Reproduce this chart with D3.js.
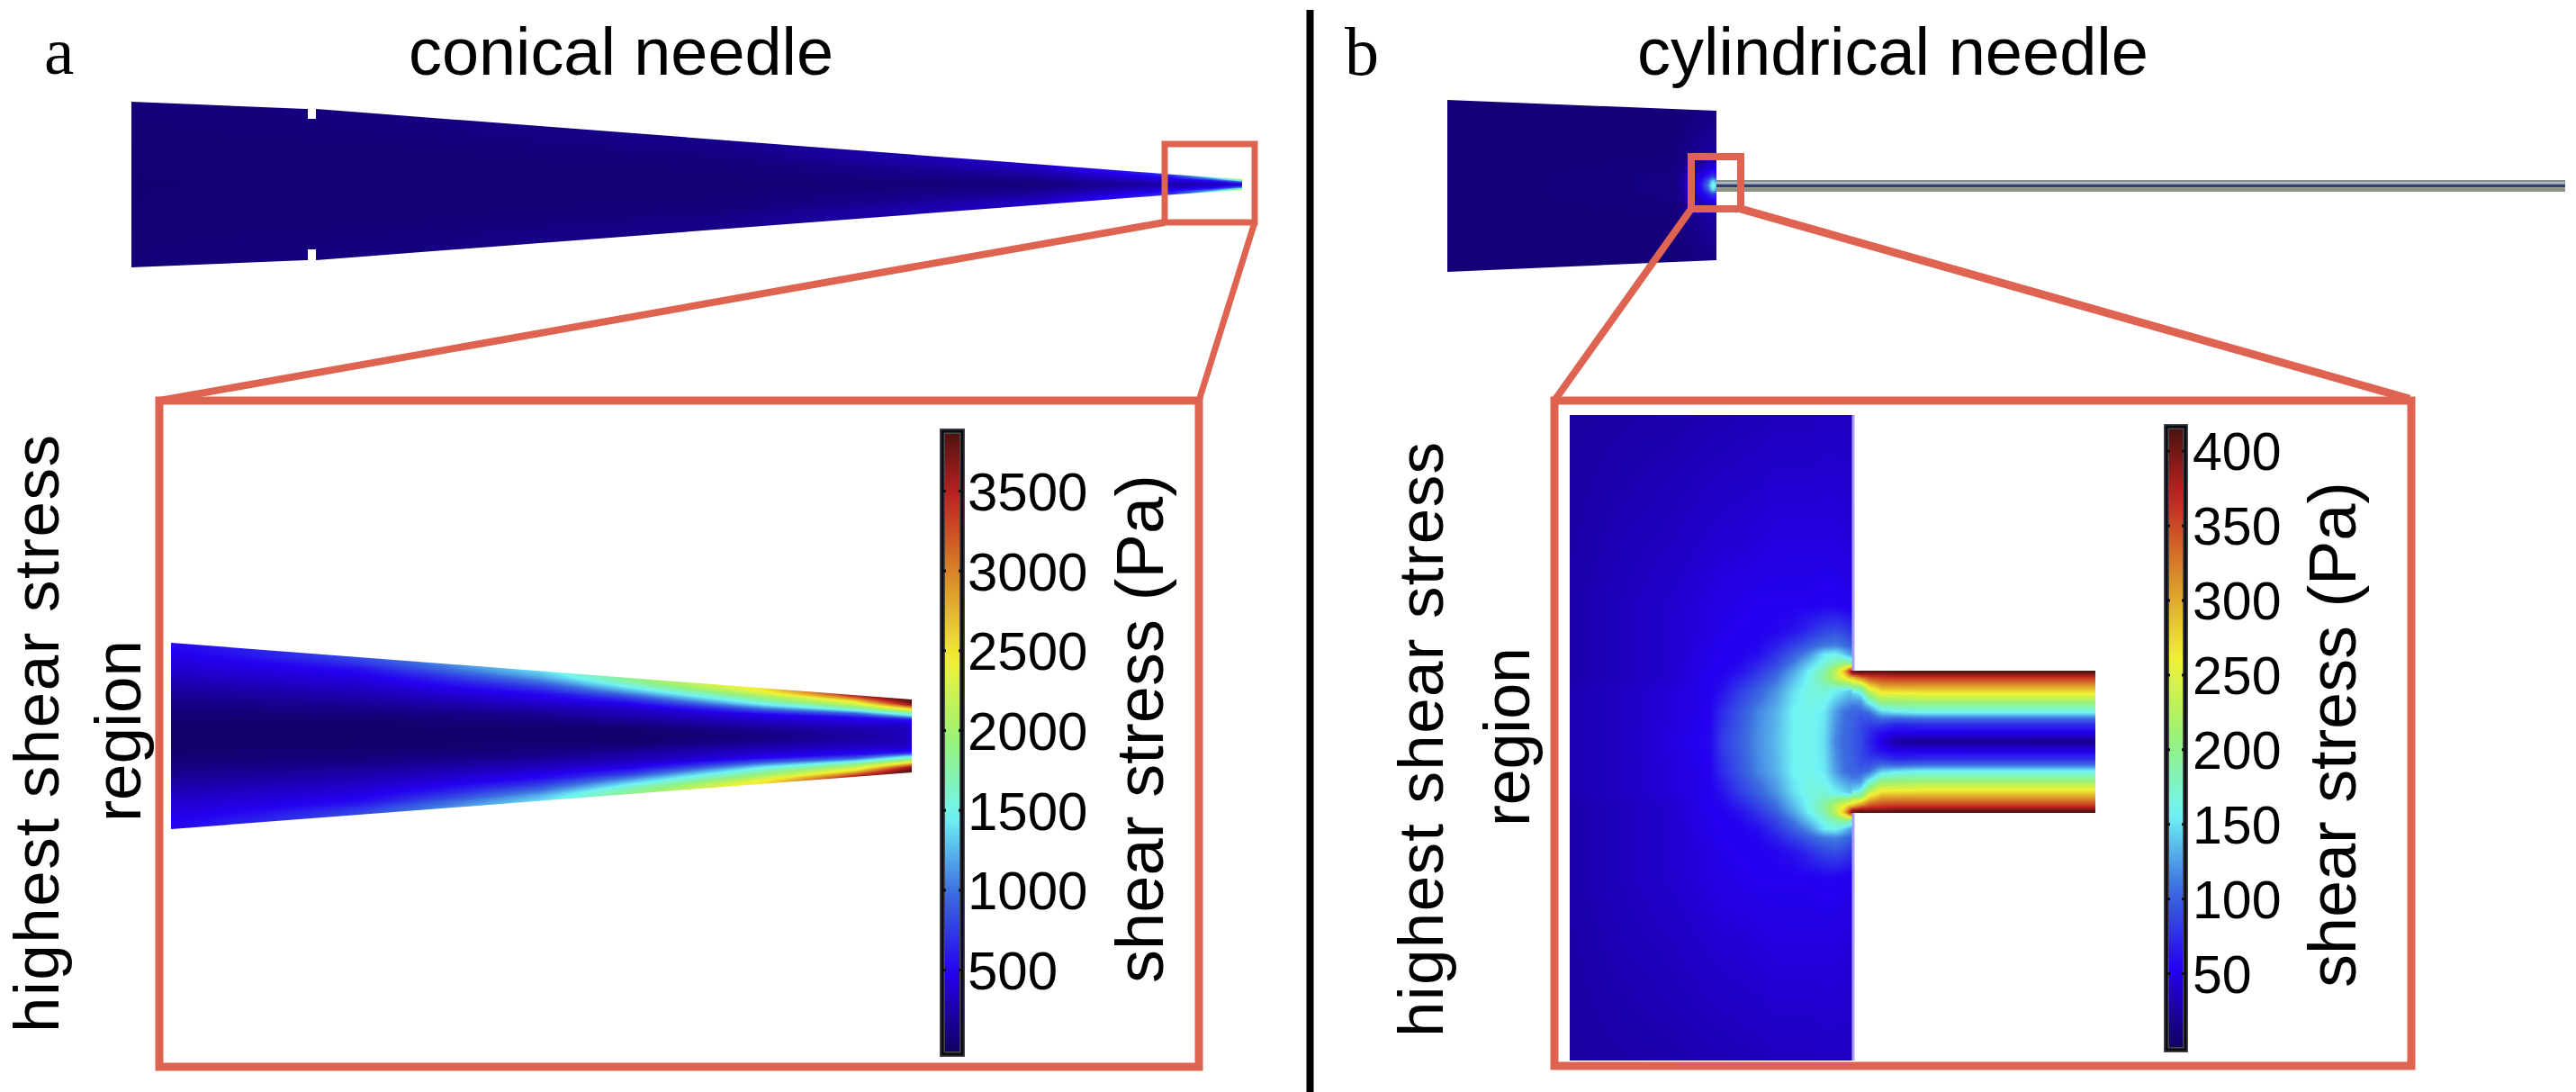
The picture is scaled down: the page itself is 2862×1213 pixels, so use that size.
<!DOCTYPE html>
<html><head><meta charset="utf-8">
<script src="https://cdn.jsdelivr.net/npm/d3@7/dist/d3.min.js"></script>
<style>html,body{margin:0;padding:0;background:#fff}svg{display:block}
text{font-family:"Liberation Sans",Arial,sans-serif;fill:#000}
.serif{font-family:"Liberation Serif",serif}</style></head><body>
<script>
// ---- colour map (fraction of the colour-bar range) ----
const jetStops=[0,0.13,0.26,0.38,0.5,0.63,0.77,0.89,1];
const jetColors=["#12005c","#2400f0","#3c6ee0","#70f4f4","#96f27a","#f2f232","#d8862a","#c42222","#481210"];
// ---- colour bars ----
const conicalTicks=[500,1000,1500,2000,2500,3000,3500];
const cylTicks=[50,100,150,200,250,300,350,400];
const conicalMax=3883, cylMax=415;
// ---- conical needle, zoomed tip: shear stress (Pa), rows = % along length, cols = r/R ----
const tipAlong=[0,25.5,49.8,62,80.2,92.3,100];
const tipRadial=[0,.15,.3,.45,.55,.65,.75,.85,.92,1];
const tipStress=[
 [40,60,115,195,270,350,410,465,505,525],
 [40,60,115,235,310,390,465,580,740,855],
 [60,80,155,310,430,545,775,1050,1240,1400],
 [40,80,235,350,505,775,1165,1515,1750,1865],
 [115,195,350,505,930,1435,1785,2135,2410,2565],
 [235,270,390,545,970,1630,2135,2525,3030,3570],
 [310,330,350,620,1400,1940,2640,3610,3805,3883]];
// ---- conical needle, whole: rows = % along length, cols = r/R ----
const coneAlong=[0,53,81.5,93.5,97.4,100];
const coneRadial=[0,.5,.8,1];
const coneStress=[[80,80,90,100],[80,100,150,150],[100,230,350,350],[235,465,620,775],[310,545,1165,1555],[310,970,1750,2330]];
// ---- cylindrical needle whole (chamber only), rows = |y| fraction, cols = axial fraction from wall ----
const wholeAxial=[-1,-.157,-.09,-.057,-.033,-.013,0];
const wholeRadial=[0,.053,.105,.19,.32,1.05];
const wholeStress=[[10,14,37,62,108,174,149],[10,14,35,58,91,149,125],[10,14,30,50,66,83,75],[10,13,25,37,46,50,50],[10,12,18,22,25,27,27],[10,10,10,11,11,11,11]];
// ---- cylindrical zoom: chamber, rows = |y|/R, cols = z/R from wall ----
const chamberZ=[-3.96,-3.25,-2.49,-1.99,-1.82,-1.57,-1.32,-1.06,-.81,-.59,-.38,-.22,-.09,0];
const chamberY=[0,.42,.72,.89,.99,1.11,1.23,1.35,1.56,1.9,2.78,4.61];
const chamberStress=[
 [31,37,48,58,83,100,120,137,158,162,149,116,104,100],
 [31,37,46,54,75,95,116,133,158,162,154,125,108,104],
 [31,37,46,54,62,83,100,121,150,166,170,158,149,141],
 [29,35,42,54,56,70,87,108,137,162,191,228,257,282],
 [29,35,42,54,54,62,79,100,129,158,187,232,299,394],
 [29,35,42,52,54,56,70,87,112,141,166,187,199,178],
 [29,35,42,52,54,54,60,79,100,120,154,160,140,125],
 [29,35,42,50,54,54,56,68,85,100,112,115,108,100],
 [29,35,42,48,52,54,54,56,62,75,87,91,85,79],
 [29,35,42,48,50,52,54,54,54,54,56,56,54,52],
 [27,33,37,42,44,44,46,48,48,48,48,48,46,46],
 [25,27,29,31,31,33,33,35,35,35,37,37,37,37]];
// ---- cylindrical zoom: outlet tube, rows = z/R, cols = r/R ----
const outletZ=[0,.13,.25,.42,.63,.96,3.43];
const outletR=[0,.14,.24,.33,.41,.49,.58,.68,.78,.9,.97,1];
const outletStress=[
 [100,100,104,104,108,108,125,141,207,282,394,394],
 [91,91,91,95,100,112,125,158,207,324,403,415],
 [71,75,83,95,108,133,174,216,274,349,398,415],
 [50,62,83,108,141,174,216,257,303,357,398,415],
 [25,54,71,104,149,183,216,257,307,361,403,415],
 [21,54,75,108,158,187,220,261,307,361,403,415],
 [17,54,75,108,158,187,220,261,307,361,403,415]];

const W=2862,H=1213,RED="#df6351";
const svg=d3.select("body").append("svg").attr("width",W).attr("height",H).attr("viewBox",`0 0 ${W} ${H}`);
const defs=svg.append("defs");
let uid=0;
const jet=max=>d3.scaleLinear().domain(jetStops.map(t=>t*max)).range(jetColors).clamp(true);

// table lookup with smooth shading between read-off samples
function shader(rows,cols,table){
  const ri=d3.scaleLinear().domain(rows).range(d3.range(rows.length)).clamp(true);
  const ci=d3.scaleLinear().domain(cols).range(d3.range(cols.length)).clamp(true);
  return (r,c)=>{
    const a=ri(r),b=ci(c),i=Math.min(Math.floor(a),rows.length-2),j=Math.min(Math.floor(b),cols.length-2),s=a-i,t=b-j;
    return (1-s)*((1-t)*table[i][j]+t*table[i][j+1])+s*((1-t)*table[i+1][j]+t*table[i+1][j+1]);
  };
}
// paint a field into an <image>, clipped by an outline
function paint(x0,y0,x1,y1,valueAt,color,outline){
  const w=x1-x0,h=y1-y0,c=document.createElement("canvas");c.width=w;c.height=h;
  const g=c.getContext("2d"),img=g.createImageData(w,h);
  for(let py=0;py<h;py++)for(let px=0;px<w;px++){
    const col=d3.rgb(color(valueAt(x0+px+.5,y0+py+.5))),k=(py*w+px)*4;
    img.data[k]=col.r;img.data[k+1]=col.g;img.data[k+2]=col.b;img.data[k+3]=255;
  }
  g.putImageData(img,0,0);
  const id="clip"+(uid++);
  defs.append("clipPath").attr("id",id).append("polygon").attr("points",outline.map(p=>p.join(",")).join(" "));
  svg.append("image").attr("x",x0).attr("y",y0).attr("width",w).attr("height",h)
    .attr("href",c.toDataURL()).attr("clip-path",`url(#${id})`);
}
function box(x,y,w,h,sw){svg.append("rect").attr("x",x).attr("y",y).attr("width",w).attr("height",h).attr("fill","none").attr("stroke",RED).attr("stroke-width",sw);}
function link(x1,y1,x2,y2,sw){svg.append("line").attr("x1",x1).attr("y1",y1).attr("x2",x2).attr("y2",y2).attr("stroke",RED).attr("stroke-width",sw);}
function label(str,x,y,size,len,opts={}){
  const t=svg.append("text").text(str).attr("font-size",size);
  if(opts.rot){t.attr("transform",`translate(${x},${y}) rotate(-90)`).attr("text-anchor","middle");}
  else t.attr("x",x).attr("y",y);
  if(len)t.attr("textLength",len).attr("lengthAdjust",opts.adj||"spacing");
  if(opts.cls)t.attr("class",opts.cls);
}
function colorbar(top,bottom,xL,xR,yScale,ticks,max,labelX,size,topVal,bottomVal){
  const id="cb"+(uid++),color=jet(max);
  const grad=defs.append("linearGradient").attr("id",id).attr("x1",0).attr("x2",0).attr("y1",0).attr("y2",1);
  d3.range(0,1.0001,1/40).forEach(f=>{
    const val=topVal+(bottomVal-topVal)*f;
    grad.append("stop").attr("offset",f).attr("stop-color",color(val));
  });
  svg.append("rect").attr("x",xL).attr("y",top).attr("width",xR-xL).attr("height",bottom-top)
    .attr("fill",`url(#${id})`).attr("stroke","#4a4a4a").attr("stroke-width",6);
  svg.append("rect").attr("x",xL).attr("y",top).attr("width",xR-xL).attr("height",bottom-top)
    .attr("fill","none").attr("stroke","#0a0a14").attr("stroke-width",3);
  const tm=(g)=>{g.select(".domain").remove();g.selectAll("line").attr("stroke","#111").attr("stroke-width",3);};
  svg.append("g").attr("transform",`translate(${xL},0)`).call(d3.axisRight(yScale).tickValues(ticks).tickSize(4).tickFormat("")).call(tm);
  svg.append("g").attr("transform",`translate(${xR},0)`).call(d3.axisLeft(yScale).tickValues(ticks).tickSize(4).tickFormat("")).call(tm);
  const lab=svg.append("g").attr("transform",`translate(${labelX},0)`).call(d3.axisRight(yScale).tickValues(ticks).tickSize(0).tickPadding(0).tickFormat(d3.format("d")));
  lab.select(".domain").remove();
  lab.attr("font-family",null).attr("font-size",null);
  lab.selectAll("text").attr("font-size",size).attr("text-anchor","start").attr("dy",".36em").attr("fill","#000");
}

// ---- titles and divider ----
label("a",49,82,75,0,{cls:"serif"});
label("conical needle",454,83,74,472,{adj:"spacingAndGlyphs"});
label("b",1494,83,76,0,{cls:"serif"});
label("cylindrical needle",1819,83,75,568,{adj:"spacingAndGlyphs"});
svg.append("line").attr("x1",1455.5).attr("x2",1455.5).attr("y1",11).attr("y2",H).attr("stroke","#000").attr("stroke-width",8);

// ---- (a) whole conical needle ----
{
  const along=d3.scaleLinear().domain([146,1380]).range([0,100]);
  const half=d3.scaleLinear().domain([146,340,351,1298,1380]).range([92,84,84,11.5,6]);
  const yc=205,val=shader(coneAlong,coneRadial,coneStress);
  const xs=half.domain();
  const outline=[...xs.map(x=>[x,yc-half(x)]),...xs.slice().reverse().map(x=>[x,yc+half(x)])];
  paint(146,110,1381,300,(x,y)=>val(along(x),Math.min(1,Math.abs(y-yc)/half(x))),jet(conicalMax),outline);
  [[342,118,9,14],[342,277,9,14]].forEach(r=>svg.append("rect").attr("x",r[0]).attr("y",r[1]).attr("width",r[2]).attr("height",r[3]).attr("fill","#fff"));
}
box(1294,160,100,87,7);
link(1294,247,177,445,8);
link(1394,247,1332,445,7);
box(177,445,1155,740,9);

// ---- (a) zoom ----
{
  const along=d3.scaleLinear().domain([190,1013]).range([0,100]);
  const half=d3.scaleLinear().domain([190,1013]).range([103.5,40.5]);
  const yc=817.5,val=shader(tipAlong,tipRadial,tipStress);
  paint(190,712,1014,923,(x,y)=>val(along(x),Math.min(1,Math.abs(y-yc)/half(x))),jet(conicalMax),
    [[190,yc-103.5],[1013,yc-40.5],[1013,yc+40.5],[190,yc+103.5]]);
}
const yA=d3.scaleLinear().domain([500,3500]).range([1077,545]);
colorbar(479,1171,1047,1069,yA,conicalTicks,conicalMax,1075,60,yA.invert(479),Math.max(0,yA.invert(1171)));
label("highest shear stress",65,815,71,664,{rot:true});
label("region",156,812,73,202,{rot:true});
label("shear stress (Pa)",1292,809.5,74,565,{rot:true});

// ---- (b) whole cylindrical needle ----
{
  const ax=d3.scaleLinear().domain([1607,1907]).range([-1,0]);
  const rad=d3.scaleLinear().domain([0,95]).range([0,1]);
  const yc=206,val=shader(wholeRadial,wholeAxial,wholeStress);
  paint(1608,110,1907,303,(x,y)=>val(rad(Math.abs(y-yc)),ax(x)),jet(cylMax),
    [[1608,111],[1907,123],[1907,289],[1608,302]]);
  // metal tube, drawn as layered bands
  const tube=[[200,2,"#8a9088"],[202,2.5,"#a8b8c8"],[204.5,3.8,"#32436a"],[208.3,4.7,"#8e9484"]];
  tube.forEach(b=>svg.append("rect").attr("x",1907).attr("y",b[0]).attr("width",943).attr("height",b[1]).attr("fill",b[2]));
}
box(1879,174,55,58,8);
link(1879,232,1727,445,8);
link(1934,232,2677,443,9);
box(1727,445,952,739,9);

// ---- (b) zoom ----
{
  const yc=824,R=79;
  const z=d3.scaleLinear().domain([2057,2057+R]).range([0,1]);
  const rr=d3.scaleLinear().domain([0,R]).range([0,1]);
  const ch=shader(chamberY,chamberZ,chamberStress),out=shader(outletZ,outletR,outletStress);
  paint(1744,461,2058,1178,(x,y)=>ch(rr(Math.abs(y-yc)),z(x)),jet(cylMax),[[1744,461],[2058,461],[2058,1178],[1744,1178]]);
  paint(2057,745,2328,903,(x,y)=>out(z(x),Math.min(1,rr(Math.abs(y-yc)))),jet(cylMax),[[2057,745],[2328,745],[2328,903],[2057,903]]);
  svg.append("line").attr("x1",2059).attr("x2",2059).attr("y1",461).attr("y2",745).attr("stroke","#a89df5").attr("stroke-width",3);
  svg.append("line").attr("x1",2059).attr("x2",2059).attr("y1",903).attr("y2",1178).attr("stroke","#a89df5").attr("stroke-width",3);
}
const yB=d3.scaleLinear().domain([50,350]).range([1081,583.6]);
colorbar(474,1166,2407,2428,yB,cylTicks,cylMax,2436,59,yB.invert(474),Math.max(0,yB.invert(1166)));
label("highest shear stress",1603,821.5,71,661,{rot:true});
label("region",1699,818.5,72,199,{rot:true});
label("shear stress (Pa)",2617,816,74,562,{rot:true});
</script></body></html>
